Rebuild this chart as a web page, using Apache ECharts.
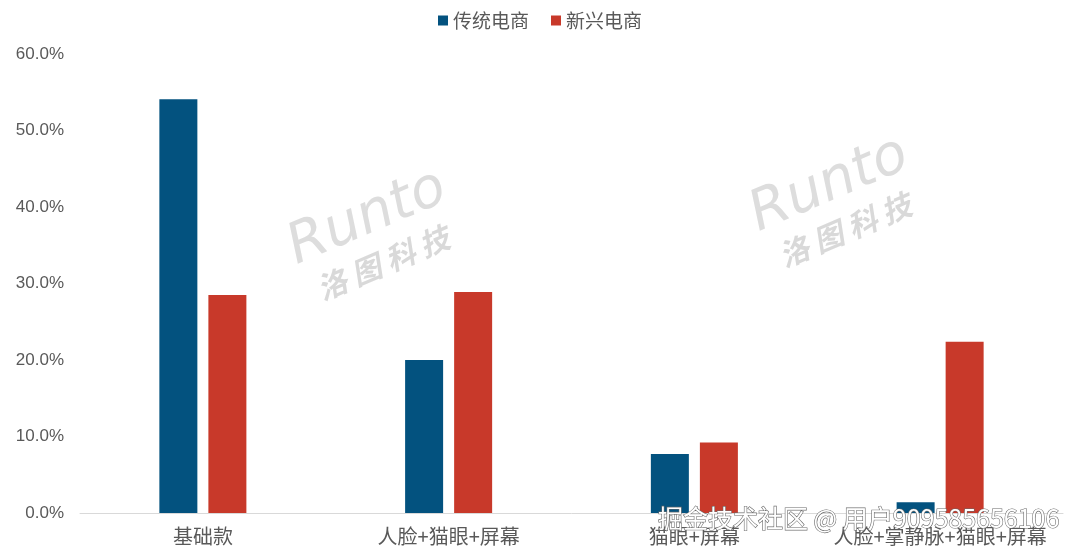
<!DOCTYPE html>
<html><head><meta charset="utf-8">
<script src="https://cdn.jsdelivr.net/npm/echarts@6/dist/echarts.min.js"></script>
<style>html,body{margin:0;padding:0;background:#fff}#c{width:1080px;height:552px}</style>
</head><body><div id="c"></div>
<script>
const categories = ['基础款', '人脸+猫眼+屏幕', '猫眼+屏幕', '人脸+掌静脉+猫眼+屏幕'];
const seriesNames = ['传统电商', '新兴电商'];
const traditional = [54.1, 20.0, 7.7, 1.4];
const emerging = [28.5, 28.9, 9.2, 22.4];
const yTicks = [0, 10, 20, 30, 40, 50, 60];

const chart = echarts.init(document.getElementById('c'));
const font = '"Noto Sans CJK SC", "Noto Sans", sans-serif';
function runto(x, y) {
  return {
    type: 'group', x: x, y: y, rotation: 0.40, silent: true, z: 100,
    children: [
      { type: 'text', style: { text: 'Runto', x: 0, y: 0, font: 'italic 300 56px "DejaVu Sans", sans-serif', fill: 'rgba(170,170,170,0.4)' } },
      { type: 'text', style: { text: '洛 图 科 技', x: 10, y: 60, font: 'italic bold 30px "Noto Sans CJK SC", sans-serif', fill: 'rgba(170,170,170,0.45)' } }
    ]
  };
}
chart.setOption({
  animation: false,
  textStyle: { fontFamily: font },
  color: ['#03527f', '#c8392a'],
  legend: {
    top: 6, left: 'center', itemWidth: 10, itemHeight: 10, itemGap: 22, icon: 'rect',
    textStyle: { fontSize: 19, color: '#595959', fontFamily: font },
    data: seriesNames
  },
  grid: { left: 80, right: 17, top: 54, bottom: 39, containLabel: false },
  xAxis: {
    type: 'category', data: categories,
    axisLine: { lineStyle: { color: '#d9d9d9', width: 1 } },
    axisTick: { show: false },
    axisLabel: { interval: 0, fontSize: 20, color: '#595959', margin: 13, fontFamily: font,
      formatter: v => v.split('+').join(' + ').replace(/ \+ /g, '＋').replace(/＋/g, '+') }
  },
  yAxis: {
    type: 'value', min: yTicks[0], max: yTicks[yTicks.length - 1], interval: 10,
    splitLine: { show: false },
    axisLine: { show: false }, axisTick: { show: false },
    axisLabel: { fontSize: 17, color: '#595959', margin: 16, fontFamily: '"Liberation Sans", sans-serif',
      formatter: v => v.toFixed(1) + '%' }
  },
  series: [
    { name: seriesNames[0], type: 'bar', data: traditional, barWidth: 38, barGap: '29%' },
    { name: seriesNames[1], type: 'bar', data: emerging, barWidth: 38, barGap: '29%' }
  ],
  graphic: [
    runto(280, 225),
    runto(742, 192),
    { type: 'text', silent: true, z: 110, x: 658, y: 506,
      style: { text: '掘金技术社区 @ 用户909585656106', font: '25px "Noto Sans CJK SC", sans-serif',
        fill: '#ffffff', stroke: '#6a6a6a', lineWidth: 1.2 } }
  ]
});
</script></body></html>
